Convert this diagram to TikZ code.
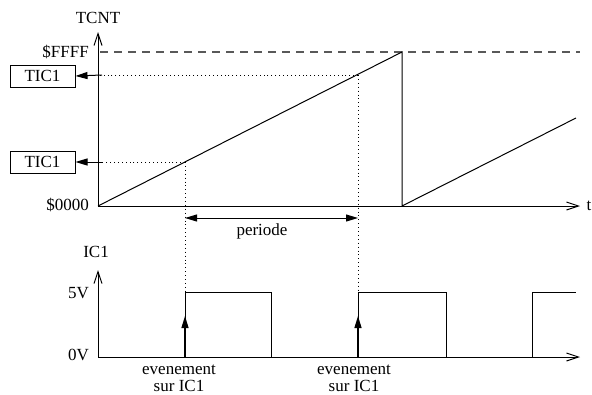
\documentclass[tikz,border=0pt]{standalone}
\usepackage{fontspec}
\setmainfont{Liberation Serif}
\usetikzlibrary{arrows.meta}
\begin{document}
\begin{tikzpicture}[x=1pt,y=-1pt,
  every node/.style={font=\fontsize{17}{19}\selectfont, inner sep=0pt},
  ln/.style={line width=1pt},
  axis/.style={line width=1pt, -{Straight Barb[length=12pt,width=8pt,line width=1pt]}},
  dots/.style={line width=0.9pt, dash pattern=on 0.9pt off 3pt},
  dsh/.style={line width=1.2pt, gray!70!black, dash pattern=on 8pt off 6pt},
  fa/.style={-{Triangle[length=12pt,width=7pt]}},
  ticbox/.style={draw, line width=1pt, minimum width=65pt, minimum height=22pt}
]
\useasboundingbox (0,0) rectangle (592,394);
% coordinates
\coordinate (O) at (98,206);
\coordinate (Ytop) at (98,32);
\coordinate (Xend) at (580,206);
\coordinate (Peak) at (402,52);
\coordinate (Drop) at (402,206);
\coordinate (R2) at (576,118);
\coordinate (Pa) at (185,162);
\coordinate (Pb) at (358,75);
\coordinate (Fa) at (100,52);
\coordinate (Fb) at (580,52);
% top axes
\draw[axis] (O) -- (Ytop);
\draw[axis] (O) -- (Xend);
\node (tcnt) at (98,18) {TCNT};
\node (t) at (589,206) {t};
\node[anchor=east] (ffff) at (89,52) {\$FFFF};
\node[anchor=east] (zero) at (89,205) {\$0000};
\draw[dsh] (Fa) -- (Fb);
% ramps
\draw[ln] (O) -- (Peak) -- (Drop) -- (R2);
% TIC1 boxes
\node[ticbox] (tic1a) at (42.5,76) {TIC1};
\node[ticbox] (tic1b) at (42.5,162) {TIC1};
\draw[dots] (Pb) -- (100,75);
\draw[dots] (Pa) -- (100,162);
\draw[fa,line width=1pt] (102,75) -- (tic1a.east);
\draw[fa,line width=1pt] (102,162) -- (tic1b.east);
% bottom axes
\coordinate (O2) at (98,357);
\coordinate (Y2) at (98,270);
\coordinate (X2) at (580,357);
\draw[axis] (O2) -- (Y2);
\draw[axis] (O2) -- (X2);
\node (ic1) at (96,252) {IC1};
\node[anchor=east] (v5) at (89,293) {5V};
\node[anchor=east] (v0) at (89,355) {0V};
% square wave
\draw[ln] (185,357) -- (185,292) -- (271,292) -- (271,357);
\draw[ln] (358,357) -- (358,292) -- (446,292) -- (446,357);
\draw[ln] (532,357) -- (532,292) -- (576,292);
% dotted verticals
\coordinate (Ea) at (185,292);
\coordinate (Eb) at (358,292);
\draw[dots] (Pa) -- (Ea);
\draw[dots] (Pb) -- (Eb);
% event arrows
\draw[fa,line width=1.3pt] (185,357) -- (185,316);
\draw[fa,line width=1.3pt] (358,357) -- (358,316);
% periode
\coordinate (Qa) at (185,218);
\coordinate (Qb) at (358,218);
\draw[line width=1pt, {Triangle[length=12pt,width=7pt]}-{Triangle[length=12pt,width=7pt]}] (Qa) -- (Qb);
\node (per) at (262,231) {periode};
% event labels
\node[align=center, font=\fontsize{17}{17}\selectfont] (ev1) at (179,378) {evenement\\sur IC1};
\node[align=center, font=\fontsize{17}{17}\selectfont] (ev2) at (354,378) {evenement\\sur IC1};
\end{tikzpicture}
\end{document}
